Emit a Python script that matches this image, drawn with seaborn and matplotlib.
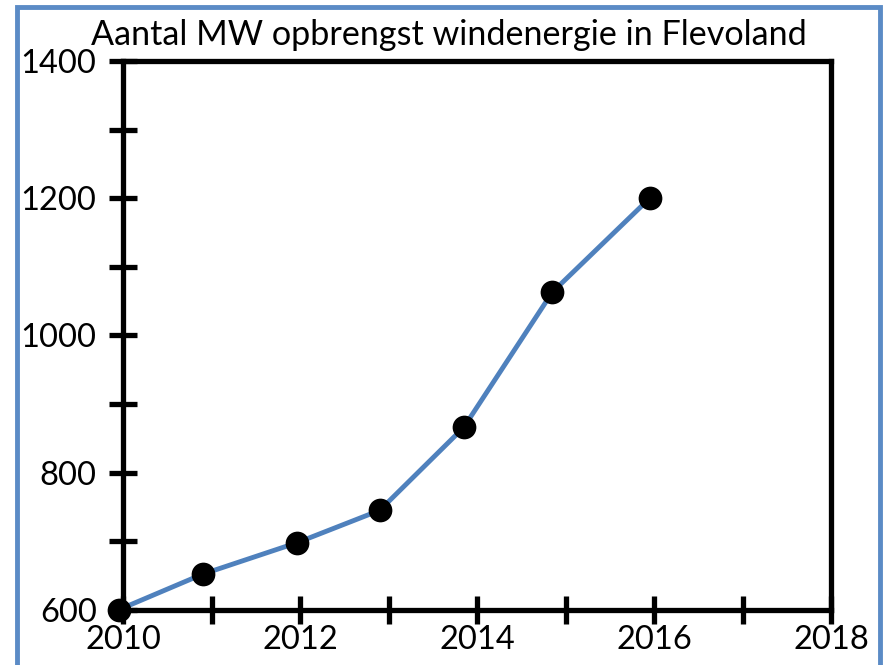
import matplotlib
matplotlib.use("Agg")
import matplotlib.pyplot as plt
import seaborn as sns
import pandas as pd
from matplotlib.patches import Rectangle
from matplotlib.ticker import MultipleLocator

title = "Aantal MW opbrengst windenergie in Flevoland"
years = [2009.95, 2010.9, 2011.97, 2012.9, 2013.85, 2014.85, 2015.95]
mw = [600, 652, 698, 745, 866, 1063, 1200]
x_ticks = [2010, 2012, 2014, 2016, 2018]
y_ticks = [600, 800, 1000, 1200, 1400]

sns.set_theme(style="white")
plt.rcParams['font.family'] = ['Lato', 'DejaVu Sans']

df = pd.DataFrame({"jaar": years, "mw": mw})

fig = plt.figure(figsize=(8.85, 6.65), dpi=100)
ax = fig.add_axes([0.139, 0.083, 0.800, 0.825])

sns.lineplot(data=df, x="jaar", y="mw", ax=ax, color="#4F81BD", linewidth=3.5, zorder=3)
sns.scatterplot(data=df, x="jaar", y="mw", ax=ax, color="black", s=250, edgecolor="black", zorder=4, clip_on=False)

ax.set_xlim(2010, 2018)
ax.set_ylim(600, 1400)
ax.set_xticks(x_ticks)
ax.set_yticks(y_ticks)
ax.xaxis.set_minor_locator(MultipleLocator(1))
ax.yaxis.set_minor_locator(MultipleLocator(100))
ax.set_xlabel("")
ax.set_ylabel("")

for s in ax.spines.values():
    s.set_linewidth(3.8)
    s.set_color("black")
    s.set_visible(True)

ax.tick_params(which="both", direction="inout", length=20, width=3.8, color="black",
               labelsize=23.5, labelcolor="black")
ax.tick_params(axis="y", which="both", left=True, pad=9)
ax.tick_params(axis="x", which="both", bottom=True, pad=1)

fig.text(0.507, 0.948, title, ha="center", va="center", fontsize=24.6, color="black")

fig.patches.append(Rectangle((17/885, -0.05), (880 - 17)/885, (665 - 7)/665 + 0.05,
                             transform=fig.transFigure, fill=False,
                             edgecolor="#5B8BC6", linewidth=3.5, zorder=10))

fig.savefig("out.png", dpi=100)
